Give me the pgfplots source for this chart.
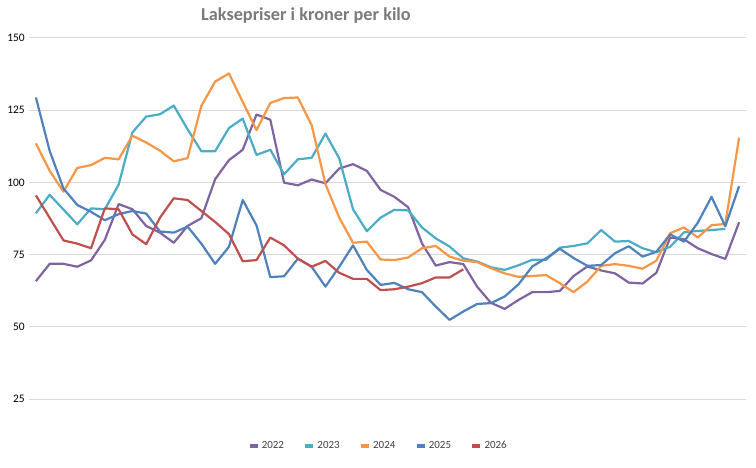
\documentclass[border=0pt]{standalone}
\usepackage{fontspec}
\setmainfont{Carlito}
\usepackage{pgfplots}
\pgfplotsset{compat=1.18}
\definecolor{c22}{HTML}{8064A2}
\definecolor{c23}{HTML}{4BACC6}
\definecolor{c24}{HTML}{F79646}
\definecolor{c25}{HTML}{4F81BD}
\definecolor{c26}{HTML}{C0504D}
\definecolor{gridc}{HTML}{D9D9D9}
\definecolor{titlec}{HTML}{7A7A7A}
\begin{document}
\begin{tikzpicture}
\useasboundingbox (0,0) rectangle (756bp,468bp);
\begin{axis}[
  at={(29bp,69bp)}, anchor=south west,
  scale only axis, width=717bp, height=361bp,
  xmin=0.5, xmax=52.5, ymin=25, ymax=150,
  xtick=\empty,
  ytick={25,50,75,100,125,150},
  ymajorgrids, grid style={draw=gridc, line width=1bp},
  axis line style={draw=none},
  major tick length=0pt,
  /pgf/number format/assume math mode=true,
  yticklabel style={font=\fontsize{11.5}{13}\selectfont, text=black, inner sep=0pt, xshift=-4bp},
  clip=false,
  legend columns=5,
  legend style={at={(axis description cs:0.4868,-0.130)}, anchor=center, draw=none,
    font=\fontsize{11}{13}\selectfont, text=black!75,
    /tikz/every even column/.append style={column sep=17bp}, inner sep=0pt},
  legend image code/.code={\draw[line width=4.5bp] (0bp,0bp) -- (8bp,0bp);},
  every axis plot/.append style={line width=2.2bp, line join=round},
]
\addplot[c22] coordinates {
(1,65.8)(2,71.8)(3,71.8)(4,70.8)(5,73.0)(6,80.1)(7,92.5)(8,90.7)(9,84.9)(10,82.6)
(11,79.1)(12,84.9)(13,87.6)(14,101.1)(15,107.7)(16,111.3)(17,123.5)(18,121.7)(19,99.9)(20,99.0)
(21,101.0)(22,99.7)(23,104.8)(24,106.3)(25,104.0)(26,97.4)(27,95.0)(28,91.4)(29,78.9)(30,71.2)
(31,72.4)(32,71.7)(33,63.9)(34,58.3)(35,56.2)(36,59.3)(37,62.0)(38,62.0)(39,62.4)(40,67.6)
(41,70.9)(42,69.5)(43,68.5)(44,65.3)(45,65.0)(46,68.7)(47,80.9)(48,80.3)(49,77.2)(50,75.2)
(51,73.5)(52,86.2)};
\addlegendentry{2022}
\addplot[c23] coordinates {
(1,89.3)(2,95.7)(3,90.6)(4,85.5)(5,91.0)(6,90.7)(7,99.2)(8,117.3)(9,122.8)(10,123.6)
(11,126.6)(12,118.4)(13,110.8)(14,110.8)(15,118.8)(16,122.1)(17,109.5)(18,111.3)(19,102.8)(20,108.0)
(21,108.5)(22,116.9)(23,108.3)(24,90.7)(25,83.1)(26,87.8)(27,90.5)(28,90.3)(29,84.4)(30,80.6)
(31,77.8)(32,73.7)(33,72.6)(34,70.6)(35,69.7)(36,71.3)(37,73.2)(38,73.2)(39,77.4)(40,78.0)
(41,78.9)(42,83.5)(43,79.5)(44,79.7)(45,77.2)(46,75.8)(47,77.7)(48,82.7)(49,83.2)(50,83.5)
(51,83.9)};
\addlegendentry{2023}
\addplot[c24] coordinates {
(1,113.5)(2,104.0)(3,96.8)(4,105.0)(5,106.0)(6,108.5)(7,108.0)(8,116.2)(9,113.8)(10,111.0)
(11,107.3)(12,108.4)(13,126.5)(14,134.9)(15,137.7)(16,127.9)(17,118.1)(18,127.5)(19,129.2)(20,129.4)
(21,119.8)(22,99.4)(23,87.8)(24,79.1)(25,79.5)(26,73.3)(27,73.1)(28,74.0)(29,77.2)(30,78.0)
(31,74.3)(32,72.9)(33,72.4)(34,70.3)(35,68.5)(36,67.3)(37,67.6)(38,67.9)(39,65.1)(40,62.0)
(41,65.7)(42,71.1)(43,71.7)(44,71.1)(45,70.1)(46,72.9)(47,82.4)(48,84.4)(49,80.9)(50,85.2)
(51,85.6)(52,115.5)};
\addlegendentry{2024}
\addplot[c25] coordinates {
(1,129.4)(2,110.9)(3,97.9)(4,92.2)(5,89.8)(6,86.9)(7,89.0)(8,90.1)(9,89.2)(10,83.0)
(11,82.6)(12,84.7)(13,78.8)(14,71.8)(15,77.7)(16,93.9)(17,85.1)(18,67.2)(19,67.5)(20,73.6)
(21,70.8)(22,63.9)(23,70.8)(24,78.2)(25,69.7)(26,64.5)(27,65.2)(28,63.0)(29,62.0)(30,57.0)
(31,52.4)(32,55.3)(33,57.9)(34,58.2)(35,60.5)(36,64.7)(37,70.9)(38,73.7)(39,77.0)(40,73.8)
(41,71.1)(42,71.4)(43,75.5)(44,77.9)(45,74.3)(46,76.0)(47,82.0)(48,79.5)(49,86.0)(50,95.0)
(51,84.8)(52,98.7)};
\addlegendentry{2025}
\addplot[c26] coordinates {
(1,95.5)(2,87.7)(3,79.9)(4,78.8)(5,77.2)(6,91.0)(7,90.7)(8,82.0)(9,78.6)(10,87.8)
(11,94.5)(12,93.9)(13,90.1)(14,86.3)(15,82.1)(16,72.7)(17,73.1)(18,80.9)(19,78.2)(20,73.6)
(21,70.8)(22,72.8)(23,68.7)(24,66.6)(25,66.6)(26,62.7)(27,63.0)(28,63.9)(29,65.1)(30,67.1)
(31,67.1)(32,69.9)};
\addlegendentry{2026}
\end{axis}
\node[font=\fontsize{18.3}{21}\selectfont\bfseries, text=titlec] at (306bp,452bp) {Laksepriser i kroner per kilo};
\end{tikzpicture}
\end{document}
